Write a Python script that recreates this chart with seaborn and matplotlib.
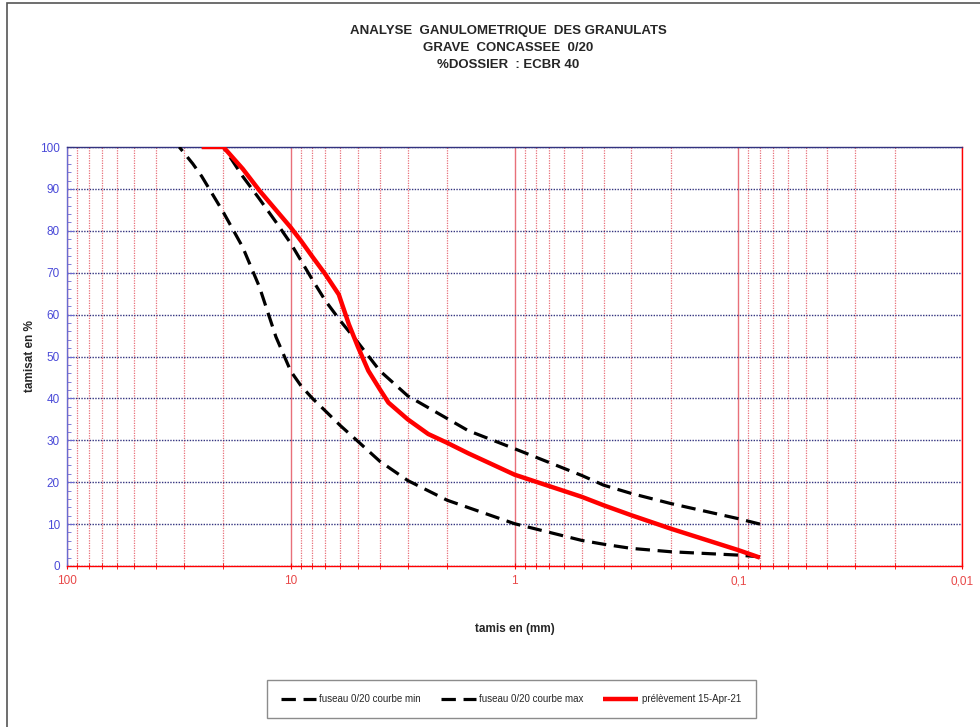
import matplotlib
matplotlib.use("Agg")
import matplotlib.pyplot as plt
import matplotlib.ticker as mticker
from matplotlib.patches import Rectangle
import seaborn as sns
import pandas as pd

# ---- data ----
min_sizes = [31.5, 27.4, 25, 20, 16.4, 13.8, 11.65, 10, 9, 8, 7, 6, 5, 4, 3, 2, 1, 0.5, 0.4, 0.3, 0.2, 0.1, 0.08]
min_pass  = [100, 96, 93, 84.4, 76.1, 66.6, 54.7, 46.5, 43, 40, 37, 33.5, 29.7, 25, 20.4, 15.7, 10.1, 6.1, 5.2, 4.2, 3.4, 2.6, 2.2]

max_sizes = [20, 16.4, 13.8, 11.65, 10, 8, 7, 6, 5, 4, 3, 2, 1.61, 1, 0.5, 0.4, 0.3, 0.2, 0.1, 0.08]
max_pass  = [100, 93, 87.6, 82.1, 77, 68.3, 63.3, 58.5, 53.3, 46.6, 40.6, 35.2, 32.3, 28, 21.6, 19.3, 17.3, 14.9, 11.3, 10]

ech_sizes = [25, 20, 16.4, 13.8, 10, 9, 8, 7, 6.1, 5.5, 5, 4.5, 4, 3.66, 3, 2.43, 2, 1.61, 1, 0.5, 0.4, 0.3, 0.2, 0.1, 0.08]
ech_pass  = [100, 100, 94.8, 89.6, 80.8, 77.6, 73.8, 69.6, 64.8, 57.7, 52.2, 46.6, 42.2, 39, 35, 31.5, 29.4, 26.9, 21.8, 16.5, 14.5, 12.1, 8.9, 3.8, 2]

labels = ["fuseau 0/20 courbe min", "fuseau 0/20 courbe max", "prélèvement 15-Apr-21"]
title_lines = ["ANALYSE  GANULOMETRIQUE  DES GRANULATS", "GRAVE  CONCASSEE  0/20", "%DOSSIER  : ECBR 40"]
x_major = [100, 10, 1, 0.1, 0.01]
x_major_labels = ["100", "10", "1", "0,1", "0,01"]
y_ticks = [0, 10, 20, 30, 40, 50, 60, 70, 80, 90, 100]

# ---- style ----
sns.set_style("white")
plt.rcParams["font.family"] = ["Liberation Sans", "DejaVu Sans"]

RED = "#ff0000"
GRID_RED = "#e8707a"
BLUE_GRID = "#33337f"
BLUE_TXT = "#4a4ad8"
RED_TXT = "#e84848"

fig = plt.figure(figsize=(9.8, 7.27), dpi=100)
ax = fig.add_axes([67/980, 1-566/727, (962-67)/980, (566-147)/727])

df_min = pd.DataFrame({"tamis": min_sizes, "passant": min_pass})
df_max = pd.DataFrame({"tamis": max_sizes, "passant": max_pass})
df_ech = pd.DataFrame({"tamis": ech_sizes, "passant": ech_pass})

sns.lineplot(data=df_min, x="tamis", y="passant", ax=ax, color="black", lw=2.3,
             linestyle=(0, (4.5, 2.4)), label=labels[0], zorder=4)
sns.lineplot(data=df_max, x="tamis", y="passant", ax=ax, color="black", lw=2.3,
             linestyle=(0, (4.5, 2.4)), label=labels[1], zorder=4)
sns.lineplot(data=df_ech, x="tamis", y="passant", ax=ax, color=RED, lw=3.2,
             label=labels[2], zorder=5, solid_joinstyle="round", solid_capstyle="butt")

ax.set_xscale("log")
ax.set_xlim(100, 0.01)
ax.set_ylim(0, 100)

ax.xaxis.set_major_locator(mticker.FixedLocator(x_major))
ax.xaxis.set_major_formatter(mticker.FixedFormatter(x_major_labels))
ax.xaxis.set_minor_locator(mticker.LogLocator(base=10, subs=range(2, 10), numticks=20))
ax.xaxis.set_minor_formatter(mticker.NullFormatter())
ax.set_yticks(y_ticks)
ax.yaxis.set_minor_locator(mticker.MultipleLocator(2))

ax.grid(True, which="major", axis="x", color=GRID_RED, lw=1.0, ls="-", zorder=1)
ax.grid(True, which="minor", axis="x", color=GRID_RED, lw=0.9, ls=(0, (1, 1)), zorder=1)
ax.grid(True, which="major", axis="y", color=BLUE_GRID, lw=1.0, ls=(0, (1, 1)), zorder=1)
ax.set_axisbelow(True)

for s in ["bottom", "right"]:
    ax.spines[s].set_color(RED)
    ax.spines[s].set_linewidth(1.0)
ax.spines["left"].set_color("#6a6ad0")
ax.spines["left"].set_linewidth(1.0)
ax.spines["top"].set_color(BLUE_GRID)
ax.spines["top"].set_linewidth(1.0)
ax.spines["top"].set_linestyle((0, (1, 1)))

ax.tick_params(axis="x", which="major", colors=RED, labelcolor=RED_TXT, labelsize=8.5,
               direction="inout", length=5, width=0.8, pad=4, bottom=True)
ax.tick_params(axis="x", which="minor", colors=RED, direction="inout", length=4, width=0.6, bottom=True)
ax.tick_params(axis="y", which="major", colors="#6a6ad0", labelcolor=BLUE_TXT, labelsize=8.5,
               direction="in", length=5, width=0.8, pad=5, left=True)
ax.tick_params(axis="y", which="minor", colors="#6a6ad0", direction="in", length=3, width=0.6, left=True)

ax.set_xlabel("tamis en (mm)", fontsize=8.5, fontweight="bold", labelpad=26)
ax.set_ylabel("tamisat en %", fontsize=8.5, fontweight="bold", labelpad=3)

# title
for i, t in enumerate(title_lines):
    fig.text(508/980, 1-(31 + 17*i)/727, t, ha="center", va="center",
             fontsize=9.5, fontweight="bold", family=["Liberation Sans", "DejaVu Sans"])

# legend at bottom
ax.get_legend().remove()
handles, lbls = ax.get_legend_handles_labels()
leg = fig.legend(handles, lbls, loc="center", bbox_to_anchor=(511/980, 1-699/727), ncol=3,
                 frameon=True, fancybox=False, edgecolor="#707070", fontsize=7,
                 handlelength=3.6, columnspacing=2.0, borderpad=1.45, handletextpad=0.4,
                 borderaxespad=0)
leg.get_frame().set_linewidth(1.0)

# outer chart border
fig.add_artist(Rectangle((7/980, -0.1), 1.2, 1 - 3/727 + 0.1, transform=fig.transFigure,
                         fill=False, edgecolor="#555555", lw=1.2))

fig.savefig("out.png", dpi=100)
